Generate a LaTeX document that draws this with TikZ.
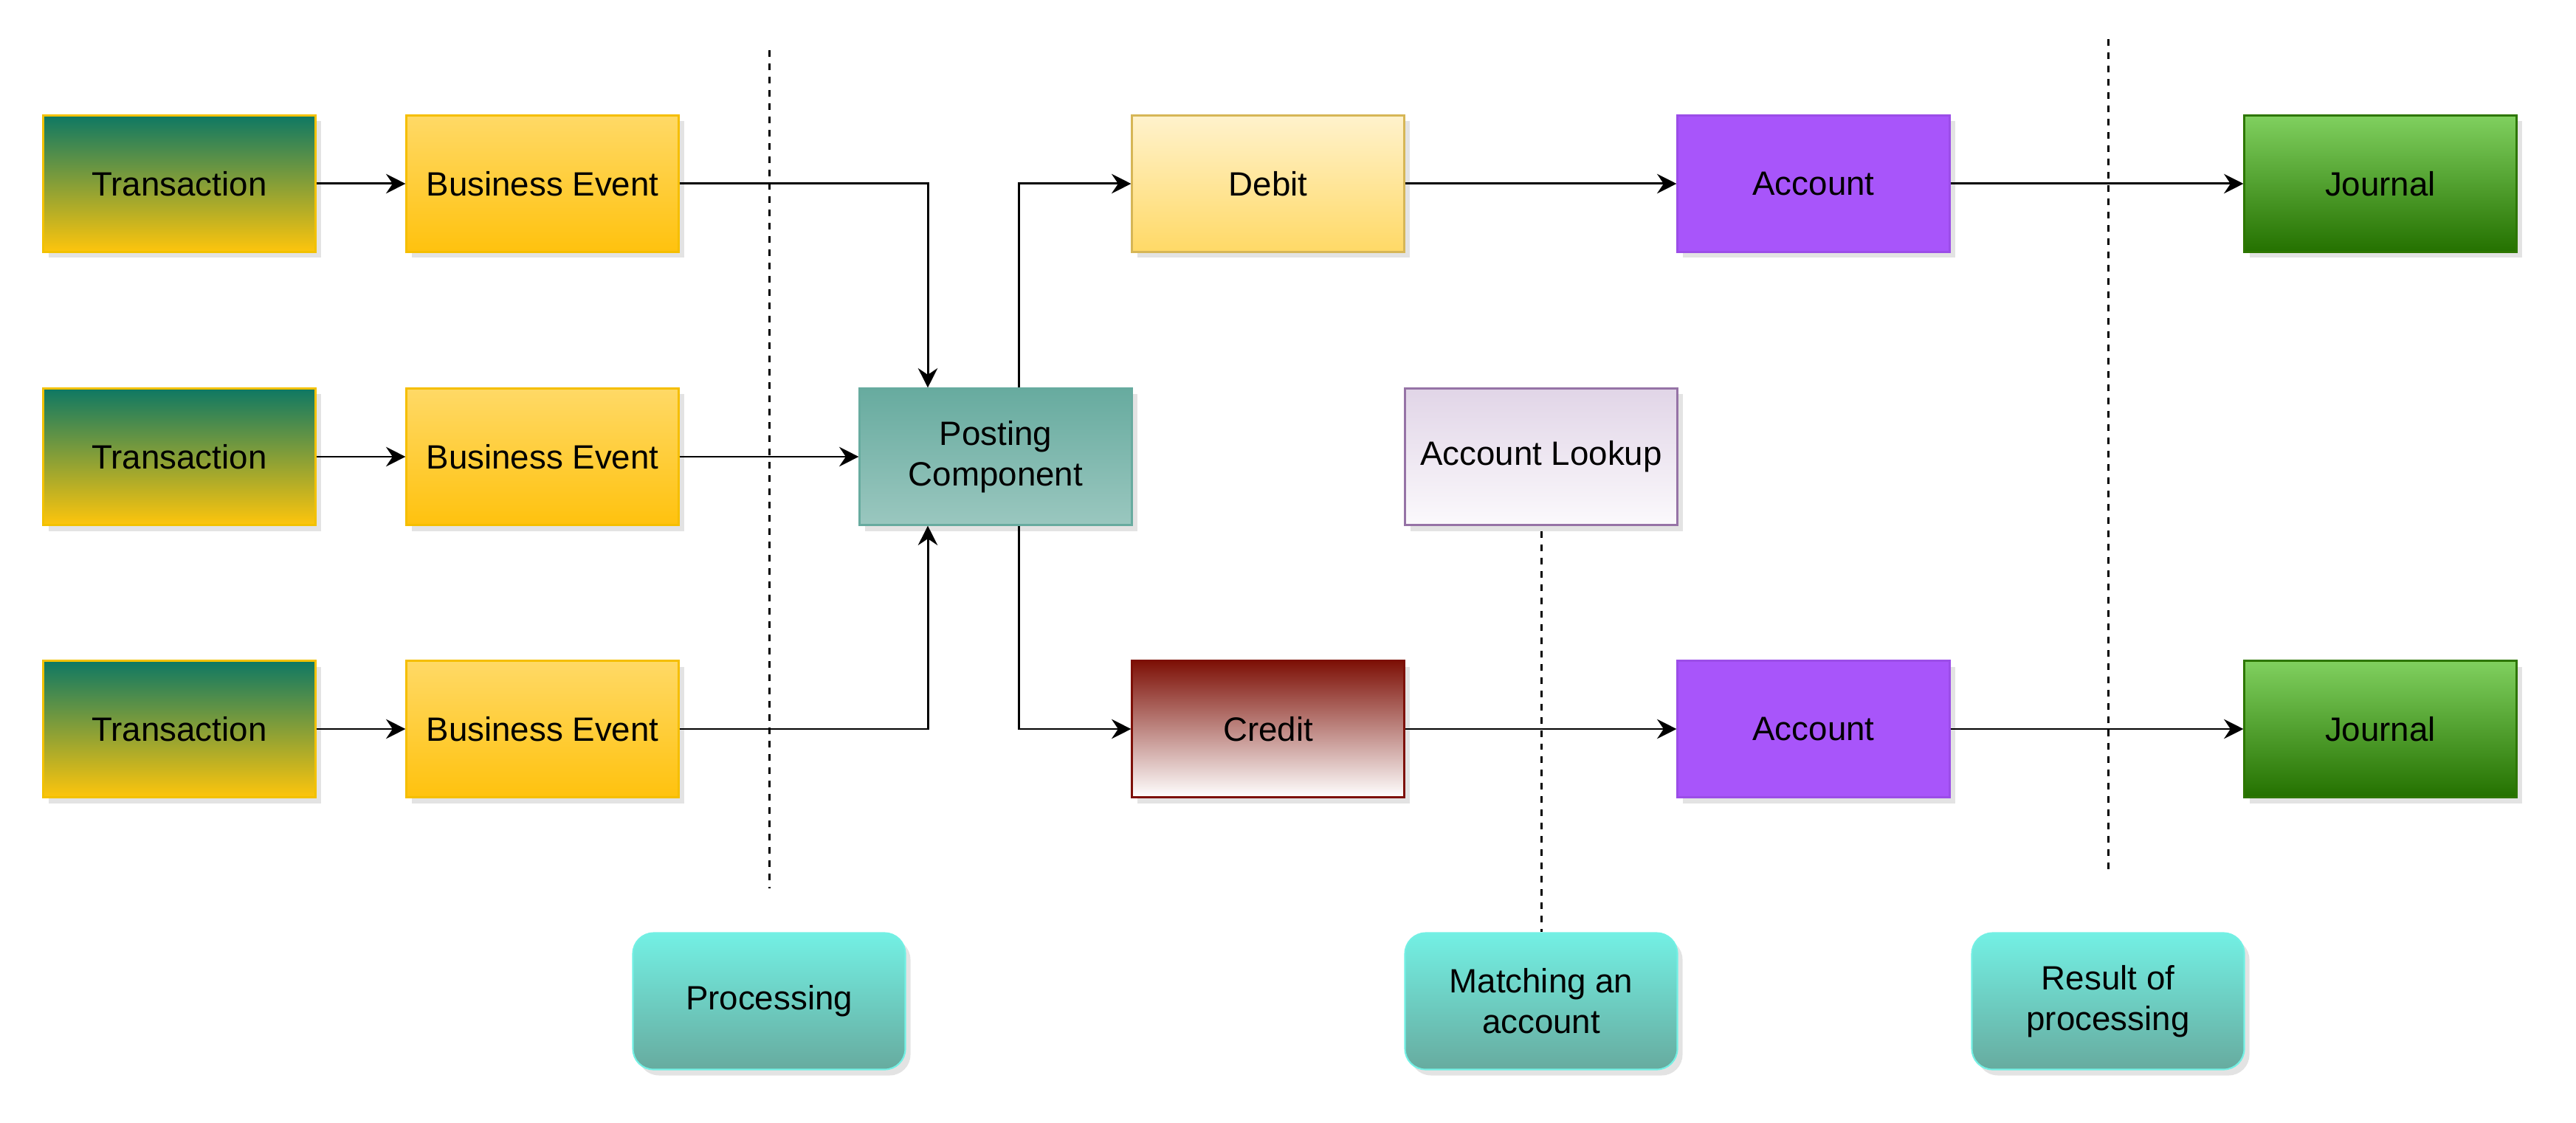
\documentclass[tikz,border=0pt]{standalone}
\usepackage{fontspec}
\setmainfont{Liberation Sans}
\usetikzlibrary{arrows.meta,shadows,positioning}

\definecolor{trtop}{HTML}{0E7863}
\definecolor{trbot}{HTML}{FEC50C}
\definecolor{trline}{HTML}{F2C100}
\definecolor{evtop}{HTML}{FFD966}
\definecolor{evbot}{HTML}{FFC20E}
\definecolor{evline}{HTML}{F5BE00}
\definecolor{potop}{HTML}{67AB9F}
\definecolor{pobot}{HTML}{9AC7BF}
\definecolor{dbtop}{HTML}{FFF2CC}
\definecolor{dbbot}{HTML}{FFD966}
\definecolor{dbline}{HTML}{D6B656}
\definecolor{crtop}{HTML}{7D1006}
\definecolor{crbot}{HTML}{FFFFFF}
\definecolor{lktop}{HTML}{E1D5E7}
\definecolor{lkbot}{HTML}{FBF9FC}
\definecolor{lkline}{HTML}{9673A6}
\definecolor{acfill}{HTML}{A855FA}
\definecolor{acline}{HTML}{9B4DE8}
\definecolor{jrtop}{HTML}{80D05F}
\definecolor{jrbot}{HTML}{247100}
\definecolor{jrline}{HTML}{2D7600}
\definecolor{tagtop}{HTML}{73F0E4}
\definecolor{tagbot}{HTML}{67AB9F}

\tikzset{
  box/.style={draw, line width=0.6pt, minimum width=3.69cm, minimum height=1.85cm,
    inner sep=0pt, align=center, font=\fontsize{13}{15.6}\selectfont,
    drop shadow={shadow xshift=0.07cm, shadow yshift=-0.08cm, opacity=0.22}},
  tag/.style={box, rounded corners=0.28cm, draw=tagtop, top color=tagtop, bottom color=tagbot},
  link/.style={-{Stealth[length=7.5pt,width=7.5pt,inset=2.5pt]}, line width=0.85pt},
  divider/.style={dash pattern=on 2.56pt off 2.56pt, line width=0.85pt},
}

\begin{document}
\begin{tikzpicture}
  \useasboundingbox (0,0) rectangle (34.90,-15.22);

  % sources
  \node[box, draw=trline, top color=trtop, bottom color=trbot] (tr1) at (2.43,-2.49) {Transaction};
  \node[box, draw=trline, top color=trtop, bottom color=trbot] (tr2) at (2.43,-6.19) {Transaction};
  \node[box, draw=trline, top color=trtop, bottom color=trbot] (tr3) at (2.43,-9.88) {Transaction};

  \node[box, draw=evline, top color=evtop, bottom color=evbot] (ev1) at (7.35,-2.49) {Business Event};
  \node[box, draw=evline, top color=evtop, bottom color=evbot] (ev2) at (7.35,-6.19) {Business Event};
  \node[box, draw=evline, top color=evtop, bottom color=evbot] (ev3) at (7.35,-9.88) {Business Event};

  % posting
  \node[box, draw=potop, top color=potop, bottom color=pobot] (post) at (13.49,-6.19) {Posting\\Component};

  \node[box, draw=dbline, top color=dbtop, bottom color=dbbot] (debit) at (17.18,-2.49) {Debit};
  \node[box, draw=crtop, top color=crtop, bottom color=crbot] (credit) at (17.18,-9.88) {Credit};
  \node[box, draw=lkline, top color=lktop, bottom color=lkbot] (lookup) at (20.88,-6.19) {Account Lookup};

  \node[box, draw=acline, fill=acfill] (acc1) at (24.57,-2.49) {Account};
  \node[box, draw=acline, fill=acfill] (acc2) at (24.57,-9.88) {Account};

  \node[box, draw=jrline, top color=jrtop, bottom color=jrbot] (jr1) at (32.25,-2.49) {Journal};
  \node[box, draw=jrline, top color=jrtop, bottom color=jrbot] (jr2) at (32.25,-9.88) {Journal};

  % stage labels
  \node[tag] (proc) at (10.42,-13.57) {Processing};
  \node[tag] (match) at (20.88,-13.57) {Matching an\\account};
  \node[tag] (res) at (28.56,-13.57) {Result of\\processing};

  % dividers
  \coordinate (cut1top) at (10.42,-0.68);
  \coordinate (cut1bot) at (10.42,-12.04);
  \coordinate (cut2top) at (28.56,-0.53);
  \coordinate (cut2bot) at (28.56,-11.86);
  \draw[divider] (cut1top) -- (cut1bot);
  \draw[divider] (cut2top) -- (cut2bot);
  \draw[divider, shorten <=2pt] (lookup.south) -- (match.north);

  % flow
  \draw[link] (tr1) -- (ev1);
  \draw[link] (tr2) -- (ev2);
  \draw[link] (tr3) -- (ev3);
  \draw[link] (ev1) -| ([xshift=-0.92cm]post.north);
  \draw[link] (ev2) -- (post);
  \draw[link] (ev3) -| ([xshift=-0.92cm]post.south);
  \draw[link] ([xshift=0.31cm]post.north) |- (debit);
  \draw[link] ([xshift=0.31cm]post.south) |- (credit);
  \draw[link] (debit) -- (acc1);
  \draw[link] (credit) -- (acc2);
  \draw[link] (acc1) -- (jr1);
  \draw[link] (acc2) -- (jr2);
\end{tikzpicture}
\end{document}
